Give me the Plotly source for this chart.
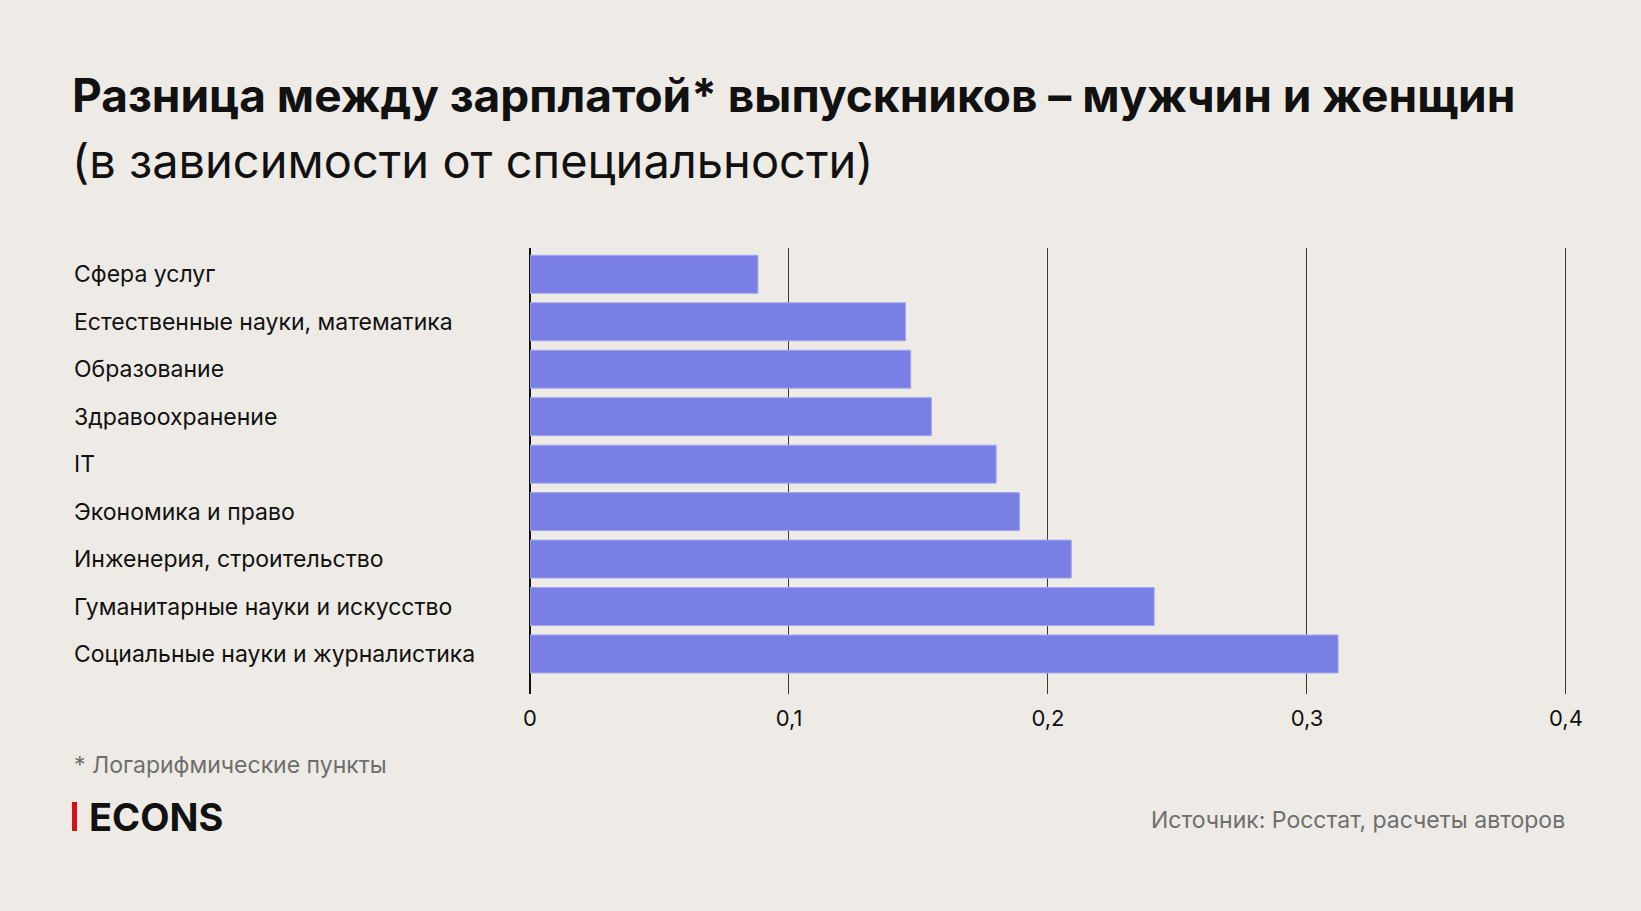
import plotly.graph_objects as go

categories = [
    "Сфера услуг",
    "Естественные науки, математика",
    "Образование",
    "Здравоохранение",
    "IT",
    "Экономика и право",
    "Инженерия, строительство",
    "Гуманитарные науки и искусство",
    "Социальные науки и журналистика",
]
values = [0.088, 0.145, 0.147, 0.155, 0.180, 0.189, 0.209, 0.241, 0.312]
tick_vals = [0, 0.1, 0.2, 0.3, 0.4]
tick_text = ["0", "0,1", "0,2", "0,3", "0,4"]

title = "Разница между зарплатой* выпускников – мужчин и женщин"
subtitle = "(в зависимости от специальности)"
footnote = "* Логарифмические пункты"
source = "Источник: Росстат, расчеты авторов"
logo = "ECONS"

W, H = 1641, 911
L, R, T, B = 530, 1567, 248, 694
BG = "#eeebe6"
FONT = "Inter"

def px(x):
    return (x - L) / (R - L)

def py(y):
    return (B - y) / (B - T)

fig = go.Figure()
fig.add_trace(go.Bar(
    y=categories, x=values, orientation="h",
    marker=dict(color="#7a7fe6", line=dict(color="#a3a6ee", width=1)),
    width=0.8, hoverinfo="skip",
))

fig.update_layout(
    width=W, height=H,
    margin=dict(l=L, r=W - R, t=T, b=H - B, autoexpand=False),
    paper_bgcolor=BG, plot_bgcolor=BG,
    showlegend=False,
    font=dict(family=FONT, color="#111111"),
    xaxis=dict(
        range=[0, 0.4004], tickvals=tick_vals, ticktext=tick_text,
        showgrid=True, gridcolor="#3a3a3a", gridwidth=1,
        zeroline=True, zerolinecolor="#111111", zerolinewidth=1.5,
        showline=False, ticks="", ticklabelstandoff=9,
        tickfont=dict(size=22, color="#111111", family=FONT),
        fixedrange=True,
    ),
    yaxis=dict(
        type="category", categoryorder="array", categoryarray=categories,
        range=[8.843, -0.554], showticklabels=False, showgrid=False,
        zeroline=False, showline=False, ticks="", fixedrange=True,
    ),
)

ann = []
for c in categories:
    ann.append(dict(x=px(72), y=c, xref="paper", yref="y", text=c,
                    showarrow=False, xanchor="left", yanchor="middle",
                    font=dict(size=23, color="#111111", family=FONT)))

ann.append(dict(x=px(70), y=py(95), xref="paper", yref="paper", text="<b>" + title + "</b>",
                showarrow=False, xanchor="left", yanchor="middle",
                font=dict(size=46, color="#111111", family=FONT)))
ann.append(dict(x=px(70), y=py(160), xref="paper", yref="paper", text=subtitle,
                showarrow=False, xanchor="left", yanchor="middle",
                font=dict(size=47, color="#111111", family=FONT)))
ann.append(dict(x=px(72), y=py(765), xref="paper", yref="paper", text=footnote,
                showarrow=False, xanchor="left", yanchor="middle",
                font=dict(size=23, color="#6e6e6e", family=FONT)))
ann.append(dict(x=px(1567), y=py(820), xref="paper", yref="paper", text=source,
                showarrow=False, xanchor="right", yanchor="middle",
                font=dict(size=23, color="#6e6e6e", family=FONT)))
ann.append(dict(x=px(87), y=py(817), xref="paper", yref="paper", text="<b>" + logo + "</b>",
                showarrow=False, xanchor="left", yanchor="middle",
                font=dict(size=38, color="#111111", family=FONT)))
fig.update_layout(annotations=ann)

fig.add_shape(type="rect", xref="paper", yref="paper",
              x0=px(72), x1=px(77), y0=py(831), y1=py(802),
              fillcolor="#d0131b", line=dict(width=0))

fig.write_html("out.html", config={"displayModeBar": False},
               post_script="document.body.style.margin='0';")
